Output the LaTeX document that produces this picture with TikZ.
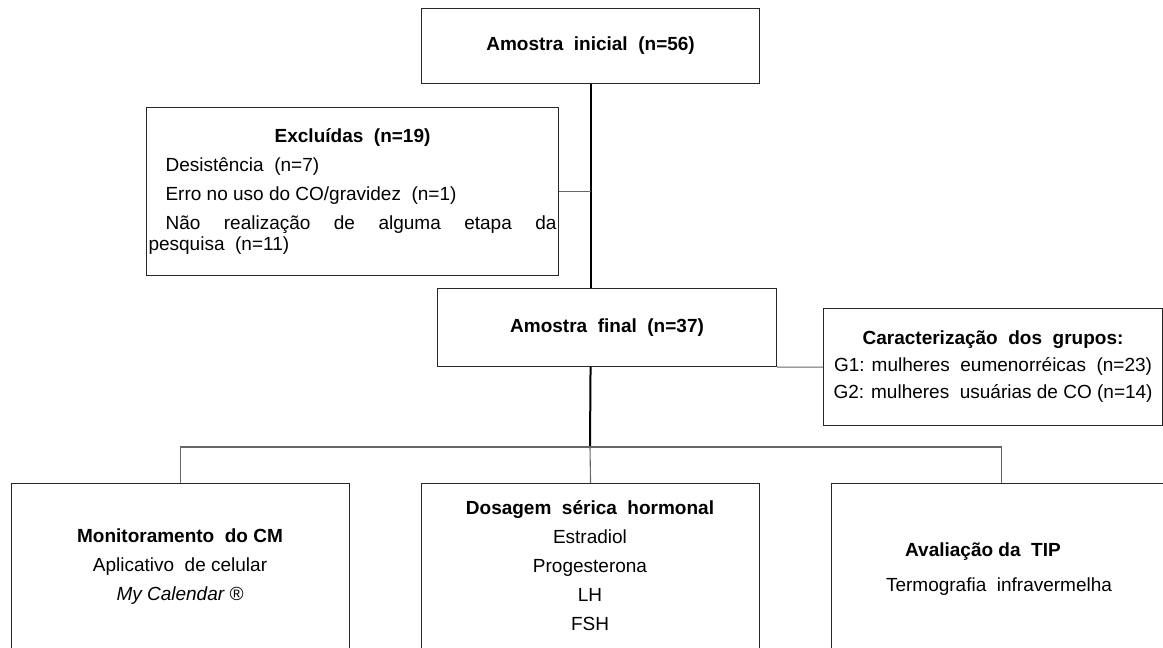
\documentclass[tikz,border=0pt]{standalone}
\usepackage{fontspec}
\setmainfont{Liberation Sans}
\begin{document}
\begin{tikzpicture}[x=1pt,y=-1pt,
  box/.style={draw=black!85, line width=1.1pt, inner sep=0pt, anchor=north west, font=\fontsize{19}{23}\selectfont},
  conn/.style={draw=black!60, line width=1.1pt},
  trunk/.style={draw=black, line width=2pt},
  lbl/.style={inner sep=0pt, align=center, font=\fontsize{19}{29}\selectfont}]
\useasboundingbox (0,0) rectangle (1163,648);
\clip (0,0) rectangle (1163,648);
% boxes
\node[box, minimum width=338, minimum height=75] (top) at (421,8) {\textbf{Amostra\ \ inicial\ \ (n=56)}};
\node[box, minimum width=412, minimum height=168] (excl) at (146,107) {\parbox{408pt}{\fontsize{19}{21}\selectfont\parskip=8pt\parindent=0pt
\makebox[408pt]{\textbf{Excluídas\ \ (n=19)}}\par
\hspace*{17pt}Desistência\ \ (n=7)\par
\hspace*{17pt}Erro no uso do CO/gravidez\ \ (n=1)\par
\hspace*{17pt}Não realização de alguma etapa da\linebreak pesquisa\ \ (n=11)}};
\node[box, minimum width=339, minimum height=78] (final) at (437,288) {\textbf{Amostra\ \ final\ \ (n=37)}};
\node[box, minimum width=339, minimum height=117, align=center, font=\fontsize{19}{27}\selectfont] (carac) at (823,308) {\textbf{Caracterização\ \ dos\ \ grupos:}\\G1: mulheres\ \ eumenorréicas\ \ (n=23)\\G2: mulheres\ \ usuárias de CO (n=14)};
\node[box, minimum width=338, minimum height=200] (bl) at (11,483) {};
\node[box, minimum width=338, minimum height=200] (bm) at (421,483) {};
\node[box, minimum width=339, minimum height=200] (br) at (831,483) {};
% texts of bottom boxes
\node[lbl] (bltxt) at (180,567) {\textbf{Monitoramento\ \ do CM}\\Aplicativo\ \ de celular\\\textit{My Calendar ®}};
\node[lbl] (bmtxt) at (590,566) {\textbf{Dosagem\ \ sérica\ \ hormonal}\\Estradiol\\Progesterona\\LH\\FSH};
\node[lbl] (brtxt) at (999,569) {\textbf{Avaliação da\ \ TIP}\hspace*{32pt}\\[6pt]Termografia\ \ infravermelha};
% connectors
\coordinate (hub) at (590,447);
\draw[trunk] (top.south) -- (top.south |- final.north);
\draw[conn] (excl.east) -- (excl.east -| top.south);
\draw[trunk] (top.south |- final.south) -- (hub);
\draw[conn] (bl.north) |- (hub) -| (br.north);
\draw[conn] (hub) -- (bm.north);
\draw[conn] (final.south east) -- (carac.west);
\end{tikzpicture}
\end{document}
